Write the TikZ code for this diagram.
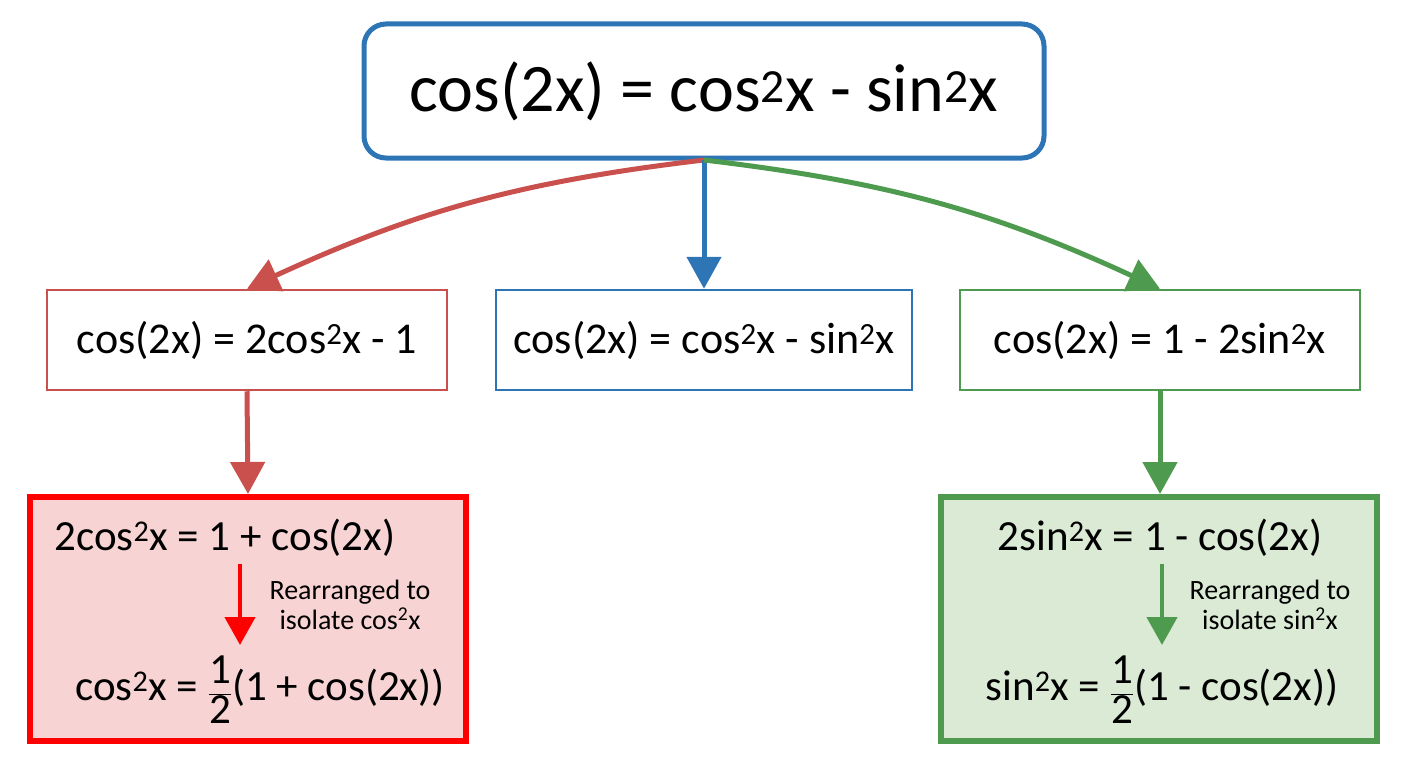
\documentclass[tikz,border=0pt]{standalone}
\usepackage{fontspec}
\setmainfont{Carlito}
\usetikzlibrary{arrows.meta}
\definecolor{cr}{HTML}{C9504D}
\definecolor{cb}{HTML}{2E75B6}
\definecolor{cg}{HTML}{4E9A4E}
\definecolor{fr}{HTML}{F8D3D3}
\definecolor{fg}{HTML}{DAEAD5}
\newcommand{\sq}{\textsuperscript{2}}
\newcommand{\halfc}{$\displaystyle\frac{\mbox{1}}{\mbox{2}}$}
\begin{document}
\begin{tikzpicture}[x=1pt,y=-1pt,
  arr/.style={line width=5pt,-{Triangle[length=32pt,width=34pt]}},
  mid/.style={draw,line width=2.5pt,minimum width=400pt,minimum height=100pt,font=\fontsize{44}{50}\selectfont},
  low/.style={draw,line width=6pt,minimum width=436pt,minimum height=244pt}]
\useasboundingbox (0,0) rectangle (1408,768);
\node[draw=cb,line width=5pt,rounded corners=22pt,minimum width=680pt,minimum height=134pt,font=\fontsize{68}{74}\selectfont] (top) at (704,91) {cos(2x) = cos\sq x - sin\sq x};
\node[mid,draw=cr] (m1) at (247,340) {cos(2x) = 2cos\sq x - 1};
\node[mid,draw=cb,minimum width=416pt] (m2) at (704,340) {cos(2x) = cos\sq x - sin\sq x};
\node[mid,draw=cg] (m3) at (1160,340) {cos(2x) = 1 - 2sin\sq x};
\node[low,draw=red,fill=fr] (b1) at (248,619) {};
\node[low,draw=cg,fill=fg] (b2) at (1159,619) {};
\coordinate (s) at (704,160);
\draw[arr,cr] (s) to[bend right=9] (m1.north);
\draw[arr,cb] (s) -- (m2.north);
\draw[arr,cg] (s) to[bend left=9] (m3.north);
\draw[arr,cr] (m1.south) -- (b1.north);
\draw[arr,cg] (m3.south) -- ([xshift=1pt]b2.north);
% red box contents
\node[font=\fontsize{43}{48}\selectfont] (r1) at (225,538) {2cos\sq x = 1 + cos(2x)};
\node[font=\fontsize{43}{48}\selectfont] (r2) at (260,690) {cos\sq x = \halfc(1 + cos(2x))};
\coordinate (ra) at (240,564);
\coordinate (rb) at (240,645);
\draw[line width=4.5pt,red,-{Triangle[length=28pt,width=30pt]}] (ra) -- (rb);
\node[font=\fontsize{28}{30}\selectfont,align=center] (rl) at (350,605) {Rearranged to\\isolate cos\sq x};
% green box contents
\node[font=\fontsize{43}{48}\selectfont] (g1) at (1160,538) {2sin\sq x = 1 - cos(2x)};
\node[font=\fontsize{43}{48}\selectfont] (g2) at (1162,690) {sin\sq x = \halfc(1 - cos(2x))};
\coordinate (ga) at (1162,564);
\coordinate (gb) at (1162,645);
\draw[line width=4.5pt,cg,-{Triangle[length=28pt,width=30pt]}] (ga) -- (gb);
\node[font=\fontsize{28}{30}\selectfont,align=center] (gl) at (1270,605) {Rearranged to\\isolate sin\sq x};
\end{tikzpicture}
\end{document}
